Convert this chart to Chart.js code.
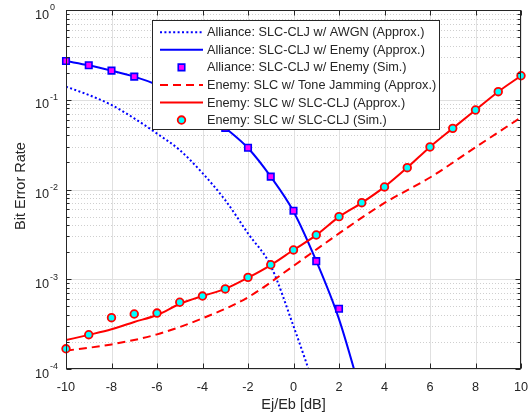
<!DOCTYPE html>
<html>
<head>
<meta charset="utf-8">
<title>Bit Error Rate vs Ej/Eb</title>
<script src="https://cdn.jsdelivr.net/npm/chart.js@4.4.1/dist/chart.umd.min.js"></script>
<style>
    html, body { margin: 0; padding: 0; background: #ffffff; }
    #wrap { width: 532px; height: 417px; }
</style>
</head>
<body>
<div id="wrap"><canvas id="berChart" width="532" height="417"></canvas></div>
<script>
// Ej/Eb values [dB] for each curve
const ejEbAwgn = [-10, -9, -8, -7, -6, -5, -4, -3, -2, -1, 0, 1];
const ejEbAlliance = [-10, -9, -8, -7, -6, -5, -4, -3, -2, -1, 0, 1, 2, 3];
const ejEbAllianceSim = [-10, -9, -8, -7, -6, -5, -4, -3, -2, -1, 0, 1, 2];
const ejEbToneJam = [-10, -8, -6, -4, -2, 0, 2, 4, 6, 8, 10];
const ejEbEnemy = [-10, -9, -8, -7, -6, -5, -4, -3, -2, -1, 0, 1, 2, 3, 4, 5, 6, 7, 8, 9, 10];

// Bit error rates
const berAwgnApprox = [0.14, 0.113, 0.0875, 0.062, 0.042, 0.0275, 0.0152, 0.0076, 0.00324, 0.00141, 0.0003, 0.000056];
const berAllianceApprox = [0.27, 0.242, 0.211, 0.181, 0.147, 0.111, 0.077, 0.0486, 0.029, 0.0139, 0.0057, 0.0016, 0.00036, 0.00005];
const berAllianceSim = [0.27, 0.242, 0.211, 0.181, 0.147, 0.111, 0.077, 0.0486, 0.0292, 0.0139, 0.0058, 0.00159, 0.00047];
const berToneJamApprox = [0.00016, 0.000188, 0.000243, 0.000367, 0.00063, 0.00141, 0.00324, 0.00708, 0.0136, 0.0295, 0.0637];
const berEnemyApprox = [0.00021, 0.00024, 0.000277, 0.000334, 0.0004, 0.00053, 0.00065, 0.00078, 0.00104, 0.00144, 0.00212,
    0.0031, 0.00495, 0.0071, 0.0107, 0.0175, 0.0298, 0.048, 0.0769, 0.123, 0.185];
const berEnemySim = [0.000168, 0.000241, 0.000373, 0.00041, 0.00042, 0.000554, 0.00065, 0.00078, 0.00105, 0.00145, 0.00212,
    0.00311, 0.00498, 0.00713, 0.01067, 0.0175, 0.0298, 0.048, 0.0769, 0.123, 0.185];

// Axis ticks
const xTicks = [-10, -8, -6, -4, -2, 0, 2, 4, 6, 8, 10];
const yDecades = [-4, -3, -2, -1, 0];

const TEXT = '#262626';
const FONT = '"Liberation Sans", Arial, sans-serif';

function pts(xs, ys) {
    return xs.map((x, i) => ({ x: x, y: ys[i] }));
}

function line(ctx, x1, y1, x2, y2) {
    ctx.beginPath();
    ctx.moveTo(x1, y1);
    ctx.lineTo(x2, y2);
    ctx.stroke();
}

function marker(ctx, ds, x, y) {
    ctx.save();
    ctx.fillStyle = ds.backgroundColor;
    ctx.strokeStyle = ds.borderColor;
    ctx.lineWidth = ds.borderWidth;
    ctx.beginPath();
    if (ds.pointStyle === 'rect') {
        const s = Math.SQRT1_2 * ds.pointRadius;
        ctx.rect(x - s, y - s, 2 * s, 2 * s);
    } else {
        ctx.arc(x, y, ds.pointRadius, 0, Math.PI * 2);
    }
    ctx.fill();
    ctx.stroke();
    ctx.restore();
}

// MATLAB style grid behind the curves
const gridPlugin = {
    id: 'matlabGrid',
    beforeDatasetsDraw(chart) {
        const { ctx, chartArea: a, scales: { x, y } } = chart;
        ctx.save();
        ctx.lineWidth = 1;

        // minor horizontal grid (dotted)
        ctx.strokeStyle = '#cfcfcf';
        ctx.setLineDash([1, 2]);
        yDecades.slice(0, -1).forEach(d => {
            for (let k = 2; k <= 9; k++) {
                const py = Math.round(y.getPixelForValue(k * Math.pow(10, d))) + 0.5;
                line(ctx, a.left, py, a.right, py);
            }
        });

        // major grid
        ctx.setLineDash([]);
        ctx.strokeStyle = '#e0e0e0';
        xTicks.forEach(v => {
            const px = Math.round(x.getPixelForValue(v)) + 0.5;
            line(ctx, px, a.top, px, a.bottom);
        });
        yDecades.forEach(d => {
            const py = Math.round(y.getPixelForValue(Math.pow(10, d))) + 0.5;
            line(ctx, a.left, py, a.right, py);
        });
        ctx.restore();
    }
};

// Axes box, ticks, labels and legend on top
const axesPlugin = {
    id: 'matlabAxes',
    afterDatasetsDraw(chart) {
        const { ctx, chartArea: a, scales: { x, y } } = chart;
        const L = a.left + 0.5, R = a.right - 0.5, T = a.top + 0.5, B = a.bottom - 0.5;
        ctx.save();
        ctx.strokeStyle = TEXT;
        ctx.lineWidth = 1;
        ctx.strokeRect(L, T, R - L, B - T);

        // x ticks (inward, bottom and top)
        xTicks.forEach(v => {
            const px = Math.round(x.getPixelForValue(v)) + 0.5;
            line(ctx, px, B, px, B - 5);
            line(ctx, px, T, px, T + 5);
        });
        // y ticks, major and minor
        yDecades.forEach(d => {
            const py = Math.round(y.getPixelForValue(Math.pow(10, d))) + 0.5;
            line(ctx, L, py, L + 5, py);
            line(ctx, R, py, R - 5, py);
            if (d < 0) {
                for (let k = 2; k <= 9; k++) {
                    const pm = Math.round(y.getPixelForValue(k * Math.pow(10, d))) + 0.5;
                    line(ctx, L, pm, L + 3, pm);
                    line(ctx, R, pm, R - 3, pm);
                }
            }
        });

        // tick labels
        ctx.fillStyle = TEXT;
        ctx.textBaseline = 'middle';
        ctx.textAlign = 'center';
        ctx.font = '12.7px ' + FONT;
        xTicks.forEach(v => {
            ctx.fillText(String(v), x.getPixelForValue(v), 387);
        });
        ctx.textAlign = 'left';
        yDecades.forEach(d => {
            const py = y.getPixelForValue(Math.pow(10, d));
            ctx.font = '12.7px ' + FONT;
            ctx.fillText('10', 35, py + 5);
            ctx.font = '9px ' + FONT;
            ctx.fillText(String(d), 50, py - 2);
        });

        // axis titles
        ctx.font = '14.5px ' + FONT;
        ctx.textAlign = 'center';
        ctx.fillText('Ej/Eb [dB]', (a.left + a.right) / 2, 405);
        ctx.save();
        ctx.translate(21, 186);
        ctx.rotate(-Math.PI / 2);
        ctx.fillText('Bit Error Rate', 0, 0);
        ctx.restore();

        // legend box
        const box = { left: 152.5, top: 20.5, right: 439.5, bottom: 129.5 };
        ctx.fillStyle = '#ffffff';
        ctx.fillRect(box.left, box.top, box.right - box.left, box.bottom - box.top);
        ctx.strokeStyle = TEXT;
        ctx.strokeRect(box.left, box.top, box.right - box.left, box.bottom - box.top);

        ctx.font = '12.7px ' + FONT;
        ctx.textAlign = 'left';
        chart.data.datasets.forEach((ds, i) => {
            const ry = 32.3 + i * 17.55;
            if (ds.showLine === false) {
                marker(ctx, ds, 181.5, ry);
            } else {
                ctx.save();
                ctx.strokeStyle = ds.borderColor;
                ctx.lineWidth = ds.borderWidth;
                ctx.setLineDash(ds.borderDash || []);
                line(ctx, 160, ry, 203, ry);
                ctx.restore();
            }
            ctx.fillStyle = TEXT;
            ctx.fillText(ds.label, 207, ry + 0.5);
        });
        ctx.restore();
    }
};

const ctx = document.getElementById('berChart').getContext('2d');
const chart = new Chart(ctx, {
    type: 'line',
    data: {
        datasets: [
            {
                label: 'Alliance: SLC-CLJ w/ AWGN (Approx.)',
                data: pts(ejEbAwgn, berAwgnApprox),
                borderColor: '#0000ff',
                borderWidth: 2,
                borderDash: [2, 2.4],
                pointRadius: 0,
                cubicInterpolationMode: 'monotone',
                order: 6
            },
            {
                label: 'Alliance: SLC-CLJ w/ Enemy (Approx.)',
                data: pts(ejEbAlliance, berAllianceApprox),
                borderColor: '#0000ff',
                borderWidth: 2,
                pointRadius: 0,
                cubicInterpolationMode: 'monotone',
                order: 5
            },
            {
                label: 'Alliance: SLC-CLJ w/ Enemy (Sim.)',
                data: pts(ejEbAllianceSim, berAllianceSim),
                showLine: false,
                pointStyle: 'rect',
                pointRadius: 4.6,
                backgroundColor: '#ff00ff',
                borderColor: '#0000ff',
                borderWidth: 1.6,
                clip: false,
                order: 4
            },
            {
                label: 'Enemy: SLC w/ Tone Jamming (Approx.)',
                data: pts(ejEbToneJam, berToneJamApprox),
                borderColor: '#ff0000',
                borderWidth: 2,
                borderDash: [8, 5],
                pointRadius: 0,
                cubicInterpolationMode: 'monotone',
                order: 3
            },
            {
                label: 'Enemy: SLC w/ SLC-CLJ (Approx.)',
                data: pts(ejEbEnemy, berEnemyApprox),
                borderColor: '#ff0000',
                borderWidth: 2,
                pointRadius: 0,
                cubicInterpolationMode: 'monotone',
                order: 2
            },
            {
                label: 'Enemy: SLC w/ SLC-CLJ (Sim.)',
                data: pts(ejEbEnemy, berEnemySim),
                showLine: false,
                pointStyle: 'circle',
                pointRadius: 3.8,
                backgroundColor: '#00ffff',
                borderColor: '#ff0000',
                borderWidth: 1.8,
                clip: false,
                order: 1
            }
        ]
    },
    options: {
        responsive: false,
        devicePixelRatio: 1,
        animation: false,
        layout: { padding: { left: 66, right: 11, top: 10, bottom: 48 } },
        elements: { line: { capBezierPoints: false } },
        plugins: {
            legend: { display: false },
            tooltip: { enabled: false }
        },
        scales: {
            x: { type: 'linear', min: -10, max: 10, display: false },
            y: { type: 'logarithmic', min: 0.0001, max: 1, display: false }
        }
    },
    plugins: [gridPlugin, axesPlugin]
});
</script>
</body>
</html>
